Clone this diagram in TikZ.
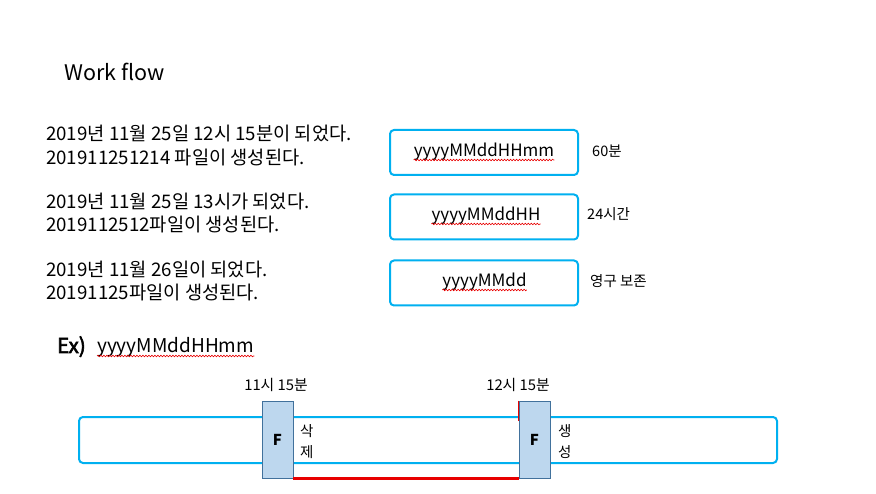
\documentclass[tikz,border=0pt]{standalone}
\usepackage{fontspec}
\setmainfont{Noto Sans CJK KR}
\newfontfamily\semib[FakeBold=3]{Noto Sans CJK KR}
\usetikzlibrary{calc,decorations.pathmorphing}
\definecolor{cy}{RGB}{0,176,240}
\definecolor{ffill}{RGB}{189,215,238}
\definecolor{fdraw}{RGB}{65,113,156}
\definecolor{redl}{RGB}{232,0,0}
\tikzset{
  txt/.style={anchor=base west, inner sep=0pt, font=\fontsize{18.7}{22}\selectfont},
  fmtbox/.style={draw=cy, line width=2pt, rounded corners=4pt, minimum width=188pt, minimum height=45pt, inner sep=0pt},
  fmttxt/.style={anchor=base, inner sep=0pt, font=\fontsize{17}{20}\selectfont},
  side/.style={anchor=base west, inner sep=0pt, font=\fontsize{14.5}{17}\selectfont},
  tlabel/.style={anchor=base, inner sep=0pt, font=\fontsize{14.8}{17}\selectfont},
  fmark/.style={draw=fdraw, fill=ffill, line width=0.8pt, minimum width=31pt, minimum height=77pt, inner sep=0pt, font=\bfseries\fontsize{15}{17}\selectfont},
  spell/.style={draw=redl, line width=0.6pt, decorate, decoration={snake, segment length=3pt, amplitude=0.8pt}},
}
\begin{document}
\begin{tikzpicture}[x=1pt,y=-1pt]
\useasboundingbox (0,0) rectangle (876,494);
\fill[white] (0,0) rectangle (876,494);

\node[anchor=base west, inner sep=0pt, font=\fontsize{21.5}{26}\selectfont] (title) at (64,81) {Work flow};

\node[txt] (l1) at (46,141) {2019년 11월 25일 12시 15분이 되었다.};
\node[txt] (l2) at (46,165) {201911251214 파일이 생성된다.};
\node[txt] (l3) at (46,209) {2019년 11월 25일 13시가 되었다.};
\node[txt] (l4) at (46,232) {2019112512파일이 생성된다.};
\node[txt] (l5) at (46,277) {2019년 11월 26일이 되었다.};
\node[txt] (l6) at (46,300) {20191125파일이 생성된다.};

\node[fmtbox] (b1) at (484,152.5) {};
\node[fmtbox] (b2) at (484,217) {};
\node[fmtbox] (b3) at (484,283) {};
\node[fmttxt] (t1) at (484,157) {yyyyMMddHHmm};
\node[fmttxt] (t2) at (486,221) {yyyyMMddHH};
\node[fmttxt] (t3) at (484.5,287) {yyyyMMdd};
\draw[spell] ($(t1.base west)+(0,3)$) -- ($(t1.base east)+(0,3)$);
\draw[spell] ($(t2.base west)+(0,3)$) -- ($(t2.base east)+(0,3)$);
\draw[spell] ($(t3.base west)+(0,3)$) -- ($(t3.base east)+(0,3)$);

\node[side] (s1) at (592,157) {60분};
\node[side] (s2) at (587,220) {24시간};
\node[side] (s3) at (590,287) {영구 보존};

\node[anchor=base west, inner sep=0pt, font=\semib\fontsize{20.5}{24}\selectfont] (ex) at (57,353) {Ex)};
\node[anchor=base west, inner sep=0pt, font=\fontsize{19}{24}\selectfont] (exf) at (97,353) {yyyyMMddHHmm};
\draw[spell] ($(exf.base west)+(0,3)$) -- ($(exf.base east)+(0,3)$);

\node[draw=cy, line width=2pt, rounded corners=4pt, minimum width=698pt, minimum height=46pt, inner sep=0pt] (bar) at (428,440) {};

\node[fmark] (f1) at (277.5,439.5) {F};
\node[fmark] (f2) at (534.5,439.5) {F};

\node[tlabel] (tl1) at (276,391) {11시 15분};
\node[tlabel] (tl2) at (518,391) {12시 15분};

\node[side] (d1) at (300,436) {삭};
\node[side] (d2) at (300,457) {제};
\node[side] (c1) at (558,436) {생};
\node[side] (c2) at (558,457) {성};

\draw[redl, line width=3pt] (f1.south east) -- (f2.south west);
\coordinate (rtop) at (f2.north west);
\coordinate (rbot) at ($(f2.north west)+(0,20)$);
\draw[redl, line width=1pt] (rtop) -- (rbot);
\end{tikzpicture}
\end{document}
